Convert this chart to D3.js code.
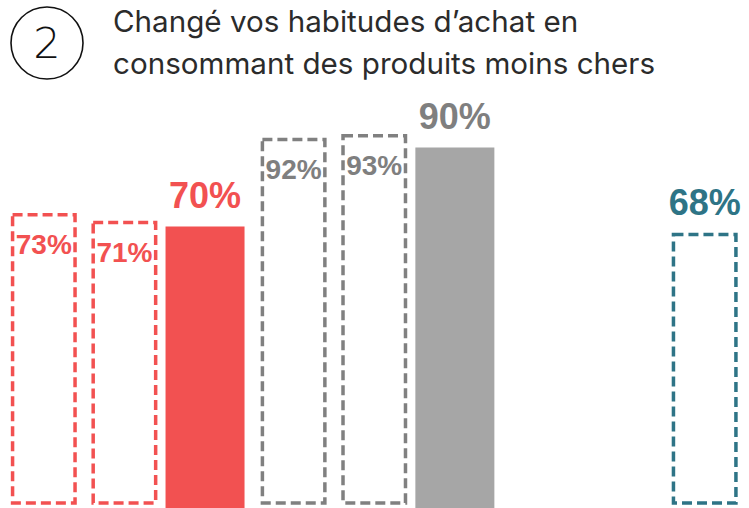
<!DOCTYPE html>
<html lang="fr">
<head>
<meta charset="utf-8">
<script src="https://cdn.jsdelivr.net/npm/d3@7"></script>
<style>
  html, body { margin: 0; padding: 0; background: #ffffff; }
  svg { display: block; }
</style>
</head>
<body>
<svg id="chart" width="749" height="508"></svg>
<script>
// Question number and title
const questionNumber = "2";
const titleLines = ["Changé vos habitudes d’achat en", "consommant des produits moins chers"];

// Bars: group (colour family), slot within the group, value, drawing style
const groupKeys = [0, 1, 2];
const slotKeys = [0, 1, 2];
const values = [73, 71, 70, 92, 93, 90, 68];
const valueLabels = ["73%", "71%", "70%", "92%", "93%", "90%", "68%"];
const barGroup = [0, 0, 0, 1, 1, 1, 2];
const barSlot = [0, 1, 2, 0, 1, 2, 2];
const barKind = ["dashed", "dashed", "solid", "dashed", "dashed", "solid", "dashed"];

const W = 749, H = 508;
const svg = d3.select("#chart");

const palette = {
  0: { fill: "#F25151", stroke: "#F25151", text: "#F25151" },
  1: { fill: "#A6A6A6", stroke: "#808080", text: "#7F7F7F" },
  2: { fill: "#2E7486", stroke: "#2E7486", text: "#2E7486" }
};

// Header: circled number and two-line title
const header = svg.append("g");
header.append("circle")
  .attr("cx", 47).attr("cy", 43).attr("r", 36)
  .attr("fill", "none").attr("stroke", "#111").attr("stroke-width", 1.6);
header.append("text")
  .attr("x", 47).attr("y", 58)
  .attr("text-anchor", "middle")
  .attr("font-family", "'DejaVu Sans', sans-serif")
  .attr("font-weight", 200)
  .attr("font-size", 43)
  .attr("fill", "#111")
  .text(questionNumber);
header.selectAll("text.title")
  .data(titleLines)
  .join("text")
  .attr("class", "title")
  .attr("x", 113)
  .attr("y", (d, i) => 32 + i * 42)
  .attr("font-family", "Inter, 'Open Sans', sans-serif")
  .attr("font-size", 29.6)
  .attr("fill", "#2b2b2b")
  .text(d => d);

// Scales
const x0 = d3.scaleBand().domain(groupKeys).range([3.5, 745]).paddingInner(0.032);
const x1 = d3.scaleBand().domain(slotKeys).range([0, x0.bandwidth()]);
const y = d3.scaleLinear().domain([0, 100]).range([503, 108]);

const bars = values.map((v, i) => ({
  value: v, label: valueLabels[i], group: barGroup[i], slot: barSlot[i], kind: barKind[i]
}));

const cx = d => x0(d.group) + x1(d.slot) + x1.bandwidth() / 2;
const solidW = x1.bandwidth() * 0.98;
const dashW = x1.bandwidth() * 0.775;
const dashStroke = 3.5;

const plot = svg.append("g");

// Solid bars run down to the bottom edge
plot.selectAll("rect.solid")
  .data(bars.filter(d => d.kind === "solid"))
  .join("rect")
  .attr("class", "solid")
  .attr("x", d => cx(d) - solidW / 2)
  .attr("y", d => y(d.value))
  .attr("width", solidW)
  .attr("height", d => H - y(d.value))
  .attr("fill", d => palette[d.group].fill);

// Dashed outline bars
plot.selectAll("rect.dashed")
  .data(bars.filter(d => d.kind === "dashed"))
  .join("rect")
  .attr("class", "dashed")
  .attr("x", d => cx(d) - dashW / 2)
  .attr("y", d => y(d.value))
  .attr("width", dashW)
  .attr("height", d => y(0) - y(d.value))
  .attr("fill", "none")
  .attr("stroke", d => palette[d.group].stroke)
  .attr("stroke-width", dashStroke)
  .attr("stroke-dasharray", "10 5");

// Value labels: above solid bars and the last bar, inside the other dashed bars
const labelAbove = d => d.kind === "solid" || d.group === 2;
plot.selectAll("text.value")
  .data(bars)
  .join("text")
  .attr("class", "value")
  .attr("x", d => cx(d))
  .attr("y", d => labelAbove(d) ? y(d.value) - 19 : y(d.value) + 39)
  .attr("text-anchor", "middle")
  .attr("font-family", "'Liberation Sans', Arial, sans-serif")
  .attr("font-weight", "bold")
  .attr("font-size", d => labelAbove(d) ? 36 : 28)
  .attr("fill", d => palette[d.group].text)
  .text(d => d.label);
</script>
</body>
</html>
